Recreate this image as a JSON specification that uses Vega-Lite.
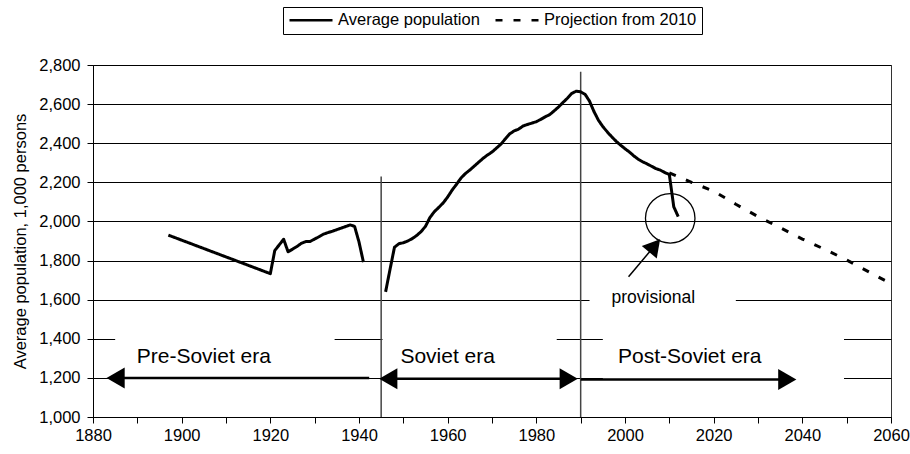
{
  "$schema": "https://vega.github.io/schema/vega-lite/v6.json",
  "width": 798,
  "height": 352,
  "autosize": {"type": "none"},
  "padding": {"left": 93, "top": 65, "right": 19, "bottom": 37},
  "background": "white",
  "config": {
    "font": "Liberation Sans",
    "view": {"stroke": "#333", "strokeWidth": 1},
    "axis": {"labelColor": "#000", "titleColor": "#000", "domainColor": "#000", "tickColor": "#000"}
  },
  "datasets": {
    "pop": [
      {"year": 1897, "value": 1930, "series": "Average population", "seg": "a"},
      {"year": 1920, "value": 1733, "series": "Average population", "seg": "a"},
      {"year": 1921, "value": 1851, "series": "Average population", "seg": "a"},
      {"year": 1922, "value": 1880, "series": "Average population", "seg": "a"},
      {"year": 1923, "value": 1909, "series": "Average population", "seg": "a"},
      {"year": 1924, "value": 1845, "series": "Average population", "seg": "a"},
      {"year": 1925, "value": 1858, "series": "Average population", "seg": "a"},
      {"year": 1926, "value": 1872, "series": "Average population", "seg": "a"},
      {"year": 1927, "value": 1888, "series": "Average population", "seg": "a"},
      {"year": 1928, "value": 1897, "series": "Average population", "seg": "a"},
      {"year": 1929, "value": 1898, "series": "Average population", "seg": "a"},
      {"year": 1930, "value": 1910, "series": "Average population", "seg": "a"},
      {"year": 1931, "value": 1922, "series": "Average population", "seg": "a"},
      {"year": 1932, "value": 1935, "series": "Average population", "seg": "a"},
      {"year": 1933, "value": 1943, "series": "Average population", "seg": "a"},
      {"year": 1934, "value": 1950, "series": "Average population", "seg": "a"},
      {"year": 1935, "value": 1958, "series": "Average population", "seg": "a"},
      {"year": 1936, "value": 1966, "series": "Average population", "seg": "a"},
      {"year": 1937, "value": 1974, "series": "Average population", "seg": "a"},
      {"year": 1938, "value": 1982, "series": "Average population", "seg": "a"},
      {"year": 1939, "value": 1975, "series": "Average population", "seg": "a"},
      {"year": 1940, "value": 1895, "series": "Average population", "seg": "a"},
      {"year": 1941, "value": 1792, "series": "Average population", "seg": "a"},
      {"year": 1946, "value": 1640, "series": "Average population", "seg": "b"},
      {"year": 1947, "value": 1755, "series": "Average population", "seg": "b"},
      {"year": 1948, "value": 1868, "series": "Average population", "seg": "b"},
      {"year": 1949, "value": 1886, "series": "Average population", "seg": "b"},
      {"year": 1950, "value": 1891, "series": "Average population", "seg": "b"},
      {"year": 1951, "value": 1900, "series": "Average population", "seg": "b"},
      {"year": 1952, "value": 1912, "series": "Average population", "seg": "b"},
      {"year": 1953, "value": 1928, "series": "Average population", "seg": "b"},
      {"year": 1954, "value": 1948, "series": "Average population", "seg": "b"},
      {"year": 1955, "value": 1975, "series": "Average population", "seg": "b"},
      {"year": 1956, "value": 2020, "series": "Average population", "seg": "b"},
      {"year": 1957, "value": 2050, "series": "Average population", "seg": "b"},
      {"year": 1958, "value": 2072, "series": "Average population", "seg": "b"},
      {"year": 1959, "value": 2095, "series": "Average population", "seg": "b"},
      {"year": 1960, "value": 2125, "series": "Average population", "seg": "b"},
      {"year": 1961, "value": 2160, "series": "Average population", "seg": "b"},
      {"year": 1962, "value": 2190, "series": "Average population", "seg": "b"},
      {"year": 1963, "value": 2222, "series": "Average population", "seg": "b"},
      {"year": 1964, "value": 2245, "series": "Average population", "seg": "b"},
      {"year": 1965, "value": 2263, "series": "Average population", "seg": "b"},
      {"year": 1966, "value": 2283, "series": "Average population", "seg": "b"},
      {"year": 1967, "value": 2303, "series": "Average population", "seg": "b"},
      {"year": 1968, "value": 2323, "series": "Average population", "seg": "b"},
      {"year": 1969, "value": 2340, "series": "Average population", "seg": "b"},
      {"year": 1970, "value": 2355, "series": "Average population", "seg": "b"},
      {"year": 1971, "value": 2375, "series": "Average population", "seg": "b"},
      {"year": 1972, "value": 2395, "series": "Average population", "seg": "b"},
      {"year": 1973, "value": 2422, "series": "Average population", "seg": "b"},
      {"year": 1974, "value": 2448, "series": "Average population", "seg": "b"},
      {"year": 1975, "value": 2463, "series": "Average population", "seg": "b"},
      {"year": 1976, "value": 2472, "series": "Average population", "seg": "b"},
      {"year": 1977, "value": 2488, "series": "Average population", "seg": "b"},
      {"year": 1978, "value": 2496, "series": "Average population", "seg": "b"},
      {"year": 1979, "value": 2503, "series": "Average population", "seg": "b"},
      {"year": 1980, "value": 2510, "series": "Average population", "seg": "b"},
      {"year": 1981, "value": 2522, "series": "Average population", "seg": "b"},
      {"year": 1982, "value": 2535, "series": "Average population", "seg": "b"},
      {"year": 1983, "value": 2546, "series": "Average population", "seg": "b"},
      {"year": 1984, "value": 2565, "series": "Average population", "seg": "b"},
      {"year": 1985, "value": 2585, "series": "Average population", "seg": "b"},
      {"year": 1986, "value": 2608, "series": "Average population", "seg": "b"},
      {"year": 1987, "value": 2630, "series": "Average population", "seg": "b"},
      {"year": 1988, "value": 2655, "series": "Average population", "seg": "b"},
      {"year": 1989, "value": 2666, "series": "Average population", "seg": "b"},
      {"year": 1990, "value": 2663, "series": "Average population", "seg": "b"},
      {"year": 1991, "value": 2650, "series": "Average population", "seg": "b"},
      {"year": 1992, "value": 2615, "series": "Average population", "seg": "b"},
      {"year": 1993, "value": 2562, "series": "Average population", "seg": "b"},
      {"year": 1994, "value": 2518, "series": "Average population", "seg": "b"},
      {"year": 1995, "value": 2485, "series": "Average population", "seg": "b"},
      {"year": 1996, "value": 2458, "series": "Average population", "seg": "b"},
      {"year": 1997, "value": 2433, "series": "Average population", "seg": "b"},
      {"year": 1998, "value": 2410, "series": "Average population", "seg": "b"},
      {"year": 1999, "value": 2390, "series": "Average population", "seg": "b"},
      {"year": 2000, "value": 2372, "series": "Average population", "seg": "b"},
      {"year": 2001, "value": 2355, "series": "Average population", "seg": "b"},
      {"year": 2002, "value": 2335, "series": "Average population", "seg": "b"},
      {"year": 2003, "value": 2318, "series": "Average population", "seg": "b"},
      {"year": 2004, "value": 2305, "series": "Average population", "seg": "b"},
      {"year": 2005, "value": 2294, "series": "Average population", "seg": "b"},
      {"year": 2006, "value": 2282, "series": "Average population", "seg": "b"},
      {"year": 2007, "value": 2270, "series": "Average population", "seg": "b"},
      {"year": 2008, "value": 2262, "series": "Average population", "seg": "b"},
      {"year": 2009, "value": 2250, "series": "Average population", "seg": "b"},
      {"year": 2010, "value": 2240, "series": "Average population", "seg": "b"},
      {"year": 2011, "value": 2075, "series": "Average population", "seg": "b"},
      {"year": 2012, "value": 2025, "series": "Average population", "seg": "b"},
      {"year": 2010, "value": 2248, "series": "Projection from 2010", "seg": "c"},
      {"year": 2015, "value": 2200, "series": "Projection from 2010", "seg": "c"},
      {"year": 2020, "value": 2155, "series": "Projection from 2010", "seg": "c"},
      {"year": 2025, "value": 2088, "series": "Projection from 2010", "seg": "c"},
      {"year": 2030, "value": 2025, "series": "Projection from 2010", "seg": "c"},
      {"year": 2035, "value": 1968, "series": "Projection from 2010", "seg": "c"},
      {"year": 2040, "value": 1910, "series": "Projection from 2010", "seg": "c"},
      {"year": 2045, "value": 1858, "series": "Projection from 2010", "seg": "c"},
      {"year": 2050, "value": 1803, "series": "Projection from 2010", "seg": "c"},
      {"year": 2055, "value": 1742, "series": "Projection from 2010", "seg": "c"},
      {"year": 2060, "value": 1682, "series": "Projection from 2010", "seg": "c"}
    ],
    "boxes": [
      {"x": 1885, "x2": 1934.5, "y": 1150, "y2": 1450},
      {"x": 1945.3, "x2": 1984.6, "y": 1150, "y2": 1450},
      {"x": 1995, "x2": 2049.4, "y": 1150, "y2": 1450},
      {"x": 1992, "x2": 2025, "y": 1555, "y2": 1655}
    ],
    "verticals": [
      {"x": 1945, "y": 1000, "y2": 2230},
      {"x": 1990, "y": 1000, "y2": 2765}
    ],
    "shafts": [
      {"x": 1887, "x2": 1942.3, "y": 1200},
      {"x": 1946, "x2": 1988, "y": 1195},
      {"x": 1990, "x2": 2036, "y": 1192}
    ],
    "leftHeads": [
      {"x": 1885.1, "y": 1200},
      {"x": 1946.6, "y": 1195}
    ],
    "rightHeads": [
      {"x": 1987.3, "y": 1195},
      {"x": 2036.6, "y": 1192}
    ],
    "eras": [
      {"x": 1905, "y": 1305, "label": "Pre-Soviet era"},
      {"x": 1960, "y": 1305, "label": "Soviet era"},
      {"x": 2014.6, "y": 1305, "label": "Post-Soviet era"}
    ],
    "provShaft": [{"x": 2000.8, "x2": 2006.7, "y": 1717, "y2": 1876}],
    "provHead": [{"x": 2006.7, "y": 1876}],
    "provText": [{"x": 2006.4, "y": 1607, "label": "provisional"}],
    "circle": [{"x": 2010.2, "y": 2016}]
  },
  "layer": [
    {
      "data": {"name": "boxes"},
      "mark": {"type": "rect", "fill": "white", "strokeWidth": 0},
      "encoding": {
        "x": {"field": "x", "type": "quantitative", "scale": {"domain": [1880, 2060], "nice": false, "zero": false},
          "axis": {"values": [1880, 1890, 1900, 1910, 1920, 1930, 1940, 1950, 1960, 1970, 1980, 1990, 2000, 2010, 2020, 2030, 2040, 2050, 2060],
            "tickCount": 40, "format": "d", "labelExpr": "datum.value % 20 === 0 ? datum.label : ''", "grid": false, "tickSize": 6,
            "labelFontSize": 16.5, "labelPadding": 4, "labelFlush": false, "labelOverlap": false, "title": null}},
        "x2": {"field": "x2"},
        "y": {"field": "y", "type": "quantitative", "scale": {"domain": [1000, 2800], "nice": false, "zero": false},
          "axis": {"values": [1000, 1200, 1400, 1600, 1800, 2000, 2200, 2400, 2600, 2800], "tickCount": 20, "format": ",d",
            "grid": true, "gridColor": "#000", "gridWidth": 1, "tickSize": 6, "labelFontSize": 16.5, "labelPadding": 7,
            "labelOverlap": false, "labelFlush": false,
            "title": "Average population, 1,000 persons", "titleFontSize": 16.5, "titleFontWeight": "normal", "titlePadding": 10}},
        "y2": {"field": "y2"}
      }
    },
    {
      "data": {"name": "verticals"},
      "mark": {"type": "rule", "color": "#444", "strokeWidth": 1.5},
      "encoding": {
        "x": {"field": "x", "type": "quantitative", "scale": {"domain": [1880, 2060], "nice": false, "zero": false}},
        "y": {"field": "y", "type": "quantitative", "scale": {"domain": [1000, 2800], "nice": false, "zero": false}},
        "y2": {"field": "y2"}
      }
    },
    {
      "data": {"name": "shafts"},
      "mark": {"type": "rule", "color": "#000", "strokeWidth": 2.5},
      "encoding": {
        "x": {"field": "x", "type": "quantitative", "scale": {"domain": [1880, 2060], "nice": false, "zero": false}},
        "x2": {"field": "x2"},
        "y": {"field": "y", "type": "quantitative", "scale": {"domain": [1000, 2800], "nice": false, "zero": false}}
      }
    },
    {
      "data": {"name": "leftHeads"},
      "mark": {"type": "point", "shape": "triangle-left", "filled": true, "color": "#000", "opacity": 1, "size": 441},
      "encoding": {
        "x": {"field": "x", "type": "quantitative", "scale": {"domain": [1880, 2060], "nice": false, "zero": false}},
        "y": {"field": "y", "type": "quantitative", "scale": {"domain": [1000, 2800], "nice": false, "zero": false}}
      }
    },
    {
      "data": {"name": "rightHeads"},
      "mark": {"type": "point", "shape": "triangle-right", "filled": true, "color": "#000", "opacity": 1, "size": 441},
      "encoding": {
        "x": {"field": "x", "type": "quantitative", "scale": {"domain": [1880, 2060], "nice": false, "zero": false}},
        "y": {"field": "y", "type": "quantitative", "scale": {"domain": [1000, 2800], "nice": false, "zero": false}}
      }
    },
    {
      "data": {"name": "eras"},
      "mark": {"type": "text", "fontSize": 21, "color": "#000", "baseline": "middle", "align": "center"},
      "encoding": {
        "x": {"field": "x", "type": "quantitative", "scale": {"domain": [1880, 2060], "nice": false, "zero": false}},
        "y": {"field": "y", "type": "quantitative", "scale": {"domain": [1000, 2800], "nice": false, "zero": false}},
        "text": {"field": "label"}
      }
    },
    {
      "data": {"name": "provShaft"},
      "mark": {"type": "rule", "color": "#000", "strokeWidth": 1.5},
      "encoding": {
        "x": {"field": "x", "type": "quantitative", "scale": {"domain": [1880, 2060], "nice": false, "zero": false}},
        "x2": {"field": "x2"},
        "y": {"field": "y", "type": "quantitative", "scale": {"domain": [1000, 2800], "nice": false, "zero": false}},
        "y2": {"field": "y2"}
      }
    },
    {
      "data": {"name": "provHead"},
      "mark": {"type": "point", "shape": "triangle-up", "angle": 40, "filled": true, "color": "#000", "opacity": 1, "size": 380},
      "encoding": {
        "x": {"field": "x", "type": "quantitative", "scale": {"domain": [1880, 2060], "nice": false, "zero": false}},
        "y": {"field": "y", "type": "quantitative", "scale": {"domain": [1000, 2800], "nice": false, "zero": false}}
      }
    },
    {
      "data": {"name": "provText"},
      "mark": {"type": "text", "fontSize": 17.5, "color": "#000", "baseline": "middle", "align": "center"},
      "encoding": {
        "x": {"field": "x", "type": "quantitative", "scale": {"domain": [1880, 2060], "nice": false, "zero": false}},
        "y": {"field": "y", "type": "quantitative", "scale": {"domain": [1000, 2800], "nice": false, "zero": false}},
        "text": {"field": "label"}
      }
    },
    {
      "data": {"name": "circle"},
      "mark": {"type": "point", "shape": "circle", "filled": false, "stroke": "#000", "strokeWidth": 1.3, "opacity": 1, "size": 2450},
      "encoding": {
        "x": {"field": "x", "type": "quantitative", "scale": {"domain": [1880, 2060], "nice": false, "zero": false}},
        "y": {"field": "y", "type": "quantitative", "scale": {"domain": [1000, 2800], "nice": false, "zero": false}}
      }
    },
    {
      "data": {"name": "pop"},
      "mark": {"type": "line", "color": "#000", "strokeWidth": 3, "strokeJoin": "round"},
      "encoding": {
        "x": {"field": "year", "type": "quantitative", "scale": {"domain": [1880, 2060], "nice": false, "zero": false}},
        "y": {"field": "value", "type": "quantitative", "scale": {"domain": [1000, 2800], "nice": false, "zero": false}},
        "detail": {"field": "seg"},
        "strokeDash": {
          "field": "series", "type": "nominal",
          "scale": {"domain": ["Average population", "Projection from 2010"], "range": [[1, 0], [7, 11]]},
          "legend": {"title": null, "orient": "none", "legendX": 190, "legendY": -58, "direction": "horizontal",
            "strokeColor": "#000", "fillColor": "white", "padding": 5, "symbolType": "stroke", "symbolSize": 1849,
            "symbolStrokeWidth": 2.5, "symbolStrokeColor": "#000", "clipHeight": 16, "labelFontSize": 16.5,
            "labelColor": "#000", "labelOffset": 4, "columnPadding": 14, "labelLimit": 300}
        }
      }
    }
  ]
}
